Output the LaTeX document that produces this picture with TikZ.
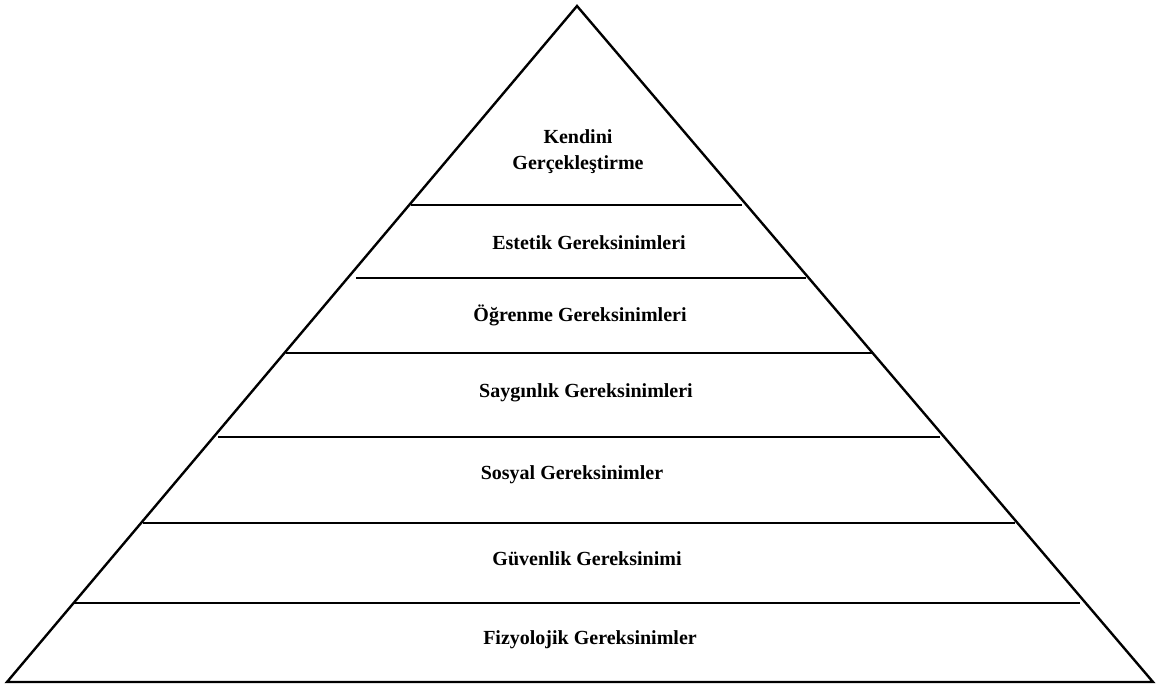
\documentclass[tikz,border=0pt]{standalone}
\usepackage{fontspec}
\setmainfont{Liberation Serif}
\begin{document}
\begin{tikzpicture}[x=1pt,y=-1pt,
  edge/.style={line width=2.4pt,line join=miter},
  level/.style={line width=2.4pt},
  lbl/.style={font=\bfseries\fontsize{20}{26}\selectfont,align=center,inner sep=0pt}]
\useasboundingbox (0,0) rectangle (1163,685);
\coordinate (apex) at (577,6);
\coordinate (bl) at (7,682);
\coordinate (br) at (1153,682);
\draw[edge] (apex) -- (bl) -- (br) -- cycle;
\draw[level] (411,205) -- (742,205);
\draw[level] (356,278) -- (806,278);
\draw[level] (286,353) -- (873,353);
\draw[level] (218,437) -- (940,437);
\draw[level] (143,523) -- (1015,523);
\draw[level] (73,603) -- (1080,603);
\node[lbl] (n1) at (578,152) {Kendini\\Gerçekleştirme};
\node[lbl] (n2) at (589,243) {Estetik Gereksinimleri};
\node[lbl] (n3) at (580,315) {Öğrenme Gereksinimleri};
\node[lbl] (n4) at (586,393) {Saygınlık Gereksinimleri};
\node[lbl] (n5) at (572,475) {Sosyal Gereksinimler};
\node[lbl] (n6) at (587,559) {Güvenlik Gereksinimi};
\node[lbl] (n7) at (590,640) {Fizyolojik Gereksinimler};
\end{tikzpicture}
\end{document}
